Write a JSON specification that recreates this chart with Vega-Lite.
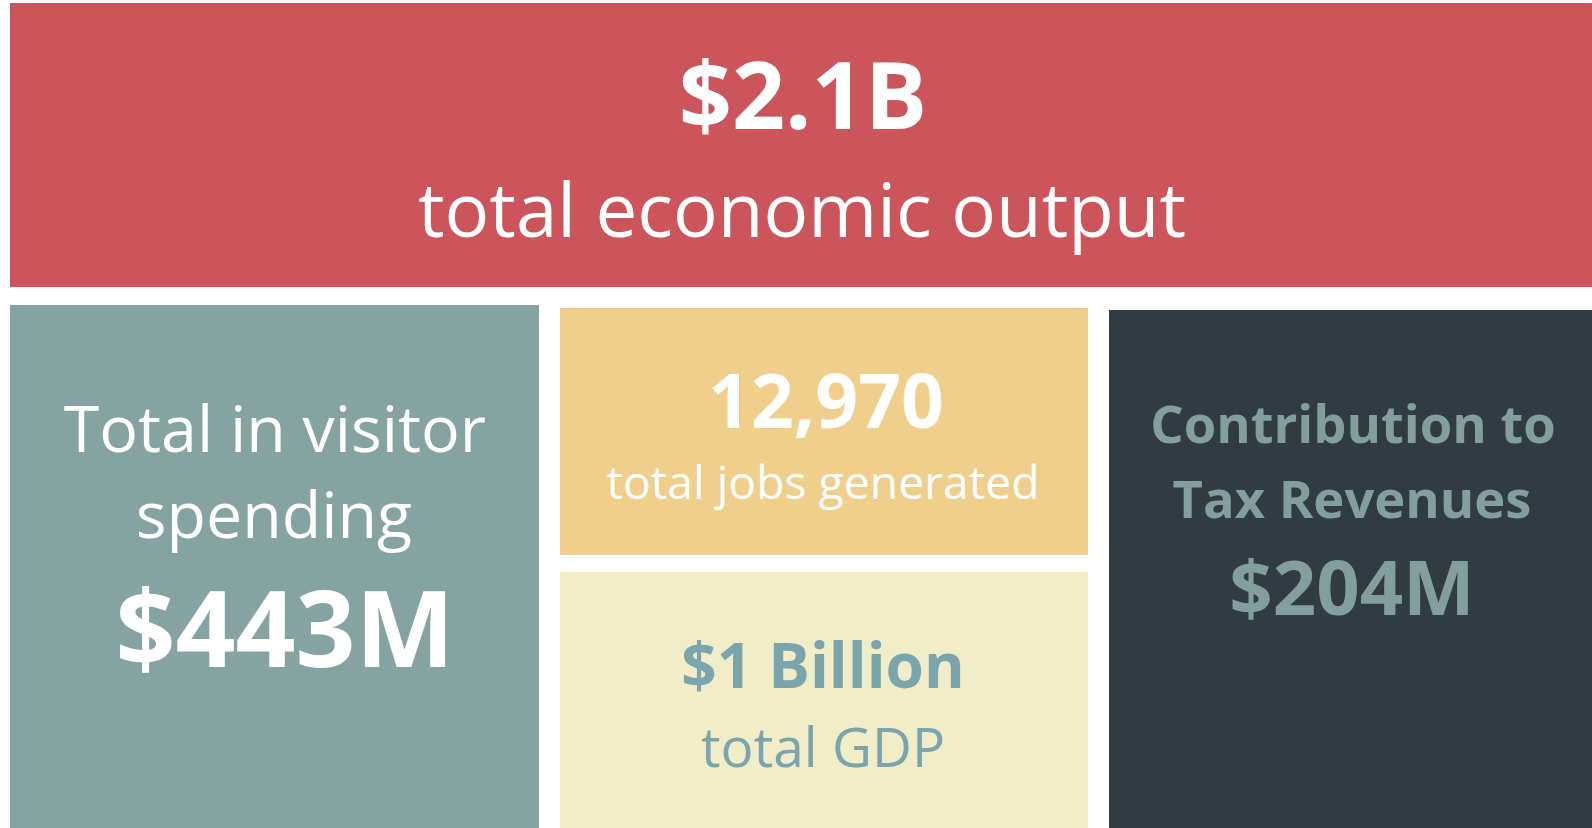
{
  "$schema": "https://vega.github.io/schema/vega-lite/v6.json",
  "width": 1592,
  "height": 828,
  "padding": 0,
  "autosize": {"type": "fit", "contains": "padding"},
  "background": "#ffffff",
  "config": {"view": {"stroke": null}, "font": "Open Sans"},
  "datasets": {
    "boxes": [
      {"panel": "output", "x0": 10, "x1": 1592, "y0": 3, "y1": 287},
      {"panel": "spending", "x0": 10, "x1": 539, "y0": 305, "y1": 828},
      {"panel": "jobs", "x0": 560, "x1": 1088, "y0": 308, "y1": 555},
      {"panel": "gdp", "x0": 560, "x1": 1088, "y0": 572, "y1": 828},
      {"panel": "tax", "x0": 1109, "x1": 1592, "y0": 310, "y1": 828}
    ],
    "texts": [
      {"key": "out_val", "label": "$2.1B", "cx": 803, "base": 129},
      {"key": "out_lbl", "label": "total economic output", "cx": 802, "base": 237},
      {"key": "sp_l1", "label": "Total in visitor", "cx": 275, "base": 452},
      {"key": "sp_l2", "label": "spending", "cx": 274, "base": 538},
      {"key": "sp_val", "label": "$443M", "cx": 285, "base": 667},
      {"key": "jobs_val", "label": "12,970", "cx": 826, "base": 428},
      {"key": "jobs_lbl", "label": "total jobs generated", "cx": 823, "base": 499},
      {"key": "gdp_val", "label": "$1 Billion", "cx": 823, "base": 688},
      {"key": "gdp_lbl", "label": "total GDP", "cx": 823, "base": 767},
      {"key": "tax_l1", "label": "Contribution to", "cx": 1353, "base": 443},
      {"key": "tax_l2", "label": "Tax Revenues", "cx": 1352, "base": 518},
      {"key": "tax_val", "label": "$204M", "cx": 1352, "base": 615}
    ]
  },
  "layer": [
    {
      "data": {"name": "boxes"},
      "mark": {"type": "rect"},
      "encoding": {
        "x": {"field": "x0", "type": "quantitative", "scale": {"domain": [0, 1592], "nice": false, "zero": false}, "axis": null},
        "x2": {"field": "x1"},
        "y": {"field": "y0", "type": "quantitative", "scale": {"domain": [828, 0], "nice": false, "zero": false}, "axis": null},
        "y2": {"field": "y1"},
        "color": {"field": "panel", "type": "nominal", "legend": null,
          "scale": {"domain": ["output", "spending", "jobs", "gdp", "tax"], "range": ["#cb555b", "#84a3a1", "#f0ce8c", "#f0edc8", "#313b42"]}}
      }
    },
    {"data": {"name": "texts"}, "transform": [{"filter": "datum.key == 'out_val'"}],
     "mark": {"type": "text", "font": "Open Sans", "fontWeight": "bold", "fontSize": 93, "fill": "#ffffff", "align": "center", "baseline": "alphabetic"},
     "encoding": {"x": {"field": "cx", "type": "quantitative"}, "y": {"field": "base", "type": "quantitative"}, "text": {"field": "label"}}},
    {"data": {"name": "texts"}, "transform": [{"filter": "datum.key == 'out_lbl'"}],
     "mark": {"type": "text", "font": "Open Sans", "fontWeight": "normal", "fontSize": 74.5, "fill": "#ffffff", "align": "center", "baseline": "alphabetic"},
     "encoding": {"x": {"field": "cx", "type": "quantitative"}, "y": {"field": "base", "type": "quantitative"}, "text": {"field": "label"}}},
    {"data": {"name": "texts"}, "transform": [{"filter": "datum.key == 'sp_l1' || datum.key == 'sp_l2'"}],
     "mark": {"type": "text", "font": "Open Sans", "fontWeight": "normal", "fontSize": 64.5, "fill": "#ffffff", "align": "center", "baseline": "alphabetic"},
     "encoding": {"x": {"field": "cx", "type": "quantitative"}, "y": {"field": "base", "type": "quantitative"}, "text": {"field": "label"}}},
    {"data": {"name": "texts"}, "transform": [{"filter": "datum.key == 'sp_val'"}],
     "mark": {"type": "text", "font": "Open Sans", "fontWeight": "bold", "fontSize": 105, "fill": "#ffffff", "align": "center", "baseline": "alphabetic"},
     "encoding": {"x": {"field": "cx", "type": "quantitative"}, "y": {"field": "base", "type": "quantitative"}, "text": {"field": "label"}}},
    {"data": {"name": "texts"}, "transform": [{"filter": "datum.key == 'jobs_val'"}],
     "mark": {"type": "text", "font": "Open Sans", "fontWeight": "bold", "fontSize": 75, "fill": "#ffffff", "align": "center", "baseline": "alphabetic"},
     "encoding": {"x": {"field": "cx", "type": "quantitative"}, "y": {"field": "base", "type": "quantitative"}, "text": {"field": "label"}}},
    {"data": {"name": "texts"}, "transform": [{"filter": "datum.key == 'jobs_lbl'"}],
     "mark": {"type": "text", "font": "Open Sans", "fontWeight": "normal", "fontSize": 46.3, "fill": "#ffffff", "align": "center", "baseline": "alphabetic"},
     "encoding": {"x": {"field": "cx", "type": "quantitative"}, "y": {"field": "base", "type": "quantitative"}, "text": {"field": "label"}}},
    {"data": {"name": "texts"}, "transform": [{"filter": "datum.key == 'gdp_val'"}],
     "mark": {"type": "text", "font": "Open Sans", "fontWeight": "bold", "fontSize": 62, "fill": "#7ba5ad", "align": "center", "baseline": "alphabetic"},
     "encoding": {"x": {"field": "cx", "type": "quantitative"}, "y": {"field": "base", "type": "quantitative"}, "text": {"field": "label"}}},
    {"data": {"name": "texts"}, "transform": [{"filter": "datum.key == 'gdp_lbl'"}],
     "mark": {"type": "text", "font": "Open Sans", "fontWeight": "normal", "fontSize": 55, "fill": "#7ba5ad", "align": "center", "baseline": "alphabetic"},
     "encoding": {"x": {"field": "cx", "type": "quantitative"}, "y": {"field": "base", "type": "quantitative"}, "text": {"field": "label"}}},
    {"data": {"name": "texts"}, "transform": [{"filter": "datum.key == 'tax_l1' || datum.key == 'tax_l2'"}],
     "mark": {"type": "text", "font": "Open Sans", "fontWeight": "bold", "fontSize": 52.5, "fill": "#829f9d", "align": "center", "baseline": "alphabetic"},
     "encoding": {"x": {"field": "cx", "type": "quantitative"}, "y": {"field": "base", "type": "quantitative"}, "text": {"field": "label"}}},
    {"data": {"name": "texts"}, "transform": [{"filter": "datum.key == 'tax_val'"}],
     "mark": {"type": "text", "font": "Open Sans", "fontWeight": "bold", "fontSize": 76, "fill": "#829f9d", "align": "center", "baseline": "alphabetic"},
     "encoding": {"x": {"field": "cx", "type": "quantitative"}, "y": {"field": "base", "type": "quantitative"}, "text": {"field": "label"}}}
  ]
}
